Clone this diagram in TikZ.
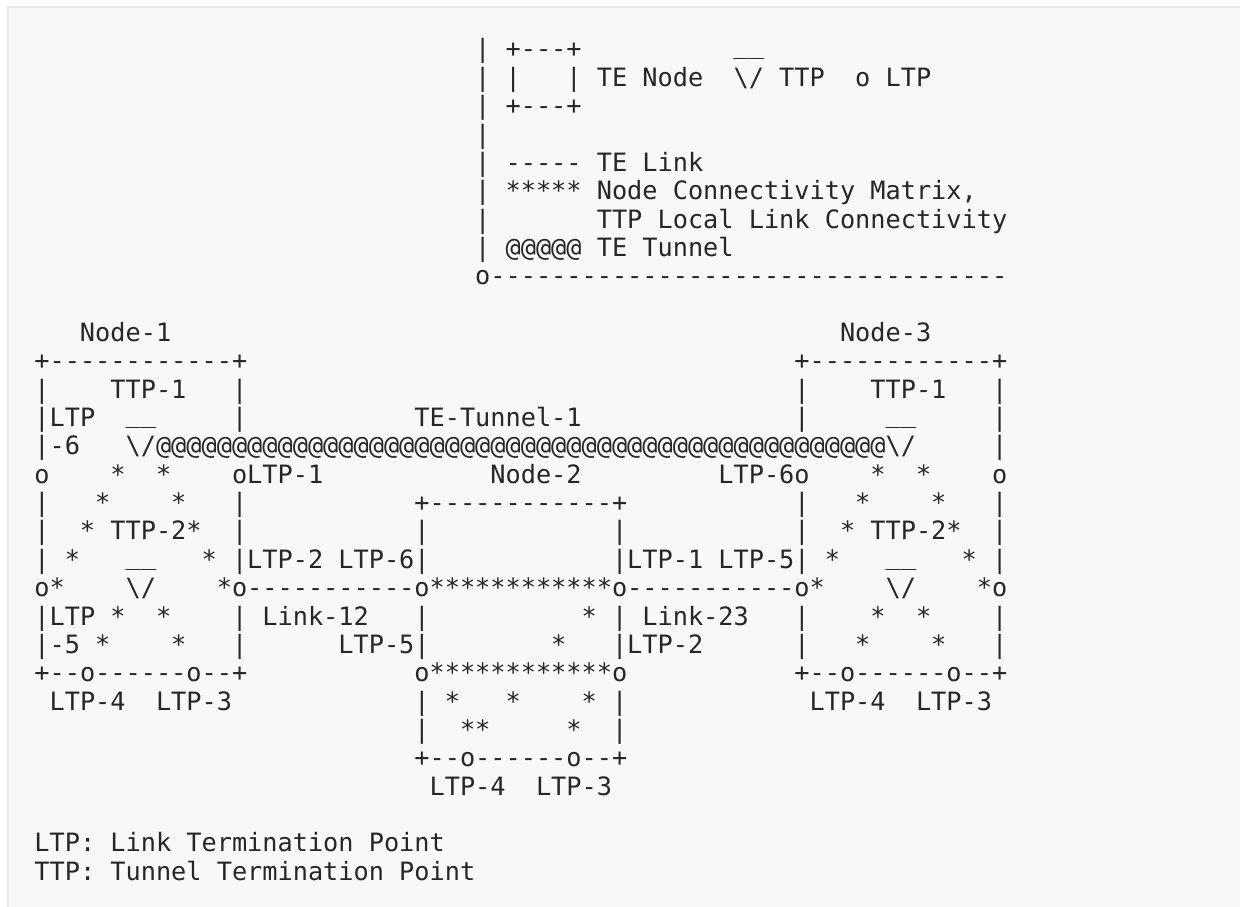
\documentclass[tikz,border=0pt]{standalone}
\usepackage{fontspec}
\setmonofont{DejaVu Sans Mono}
\definecolor{ink}{HTML}{262626}
\definecolor{paper}{HTML}{F8F8F8}
\definecolor{rim}{HTML}{EAEAEA}
\tikzset{txt/.style={font=\ttfamily\fontsize{25.25}{28}\selectfont,text=ink,anchor=base west,inner sep=0pt,outer sep=0pt}}
\newcommand\ttpbar{\raisebox{4pt}{\_\_}}
\begin{document}
\begin{tikzpicture}[x=15.2pt,y=-28.35pt]
\path[use as bounding box,fill=white] (-34.4pt,58pt) rectangle (1205.6pt,-849pt);
\fill[paper] (-26.4pt,51pt) rectangle (1205.6pt,-849pt);
\draw[rim,line width=2pt] (-26.4pt,-849pt)--(-26.4pt,51pt)--(1205.6pt,51pt);
\foreach \r in {0,...,7}{\node[txt] (key\r) at (29,\r) {|};}
\node[txt] (keyend) at (29,8) {o----------------------------------};
\node[txt] (keytop) at (31,0) {+---+}; \node[txt] (keybot) at (31,2) {+---+};
\node[txt] (keyl) at (31,1) {|}; \node[txt] (keyr) at (35,1) {|};
\node[txt] (tenode) at (37,1) {TE Node};
\node[txt] (ttpcap) at (46,0) {\ttpbar}; \node[txt] (ttp) at (46,1) {\textbackslash/ TTP};
\node[txt] (ltp) at (54,1) {o LTP};
\node[txt] (telink) at (31,4) {----- TE Link};
\node[txt] (matrix) at (31,5) {***** Node Connectivity Matrix,};
\node[txt] (local) at (37,6) {TTP Local Link Connectivity};
\node[txt] (tunnel) at (31,7) {@@@@@ TE Tunnel};
\foreach \dx/\k in {0/1,50/3}{
  \node[txt] (n\k-name) at (\dx+3,10) {Node-\k};
  \node[txt] (n\k-top) at (\dx,11) {+------------+};
  \foreach \r in {12,13,16,17,18,20,21}{
    \node[txt] (n\k-l\r) at (\dx,\r) {|}; \node[txt] (n\k-r\r) at (\dx+13,\r) {|};}
  \node[txt] (n\k-ttp1) at (\dx+5,12) {TTP-1};
  \node[txt] (n\k-bar1) at (\dx+6,13) {\ttpbar};
  \node[txt] (n\k-o15l) at (\dx,15) {o}; \node[txt] (n\k-o15r) at (\dx+13,15) {o};
  \node[txt] (n\k-s15a) at (\dx+5,15) {*}; \node[txt] (n\k-s15b) at (\dx+8,15) {*};
  \node[txt] (n\k-s16a) at (\dx+4,16) {*}; \node[txt] (n\k-s16b) at (\dx+9,16) {*};
  \node[txt] (n\k-ttp2) at (\dx+3,17) {* TTP-2*};
  \node[txt] (n\k-s18a) at (\dx+2,18) {*}; \node[txt] (n\k-s18b) at (\dx+11,18) {*};
  \node[txt] (n\k-bar2) at (\dx+6,18) {\ttpbar};
  \node[txt] (n\k-o19l) at (\dx,19) {o*}; \node[txt] (n\k-o19r) at (\dx+12,19) {*o};
  \node[txt] (n\k-vee2) at (\dx+6,19) {\textbackslash/};
  \node[txt] (n\k-s20a) at (\dx+5,20) {*}; \node[txt] (n\k-s20b) at (\dx+8,20) {*};
  \node[txt] (n\k-s21a) at (\dx+4,21) {*}; \node[txt] (n\k-s21b) at (\dx+9,21) {*};
  \node[txt] (n\k-bot) at (\dx,22) {+--o------o--+};
  \node[txt] (n\k-ltp4) at (\dx+1,23) {LTP-4}; \node[txt] (n\k-ltp3) at (\dx+8,23) {LTP-3};
}
\node[txt] (n1-ltp13) at (1,13) {LTP}; \node[txt] (n1-ltp14) at (0,14) {|-6};
\node[txt] (n1-ltp20) at (1,20) {LTP}; \node[txt] (n1-ltp21) at (1,21) {-5};
\node[txt] (n3-r14) at (63,14) {|};
\node[txt] (tename) at (25,13) {TE-Tunnel-1};
\node[txt] (tepath) at (6,14) {\textbackslash/@@@@@@@@@@@@@@@@@@@@@@@@@@@@@@@@@@@@@@@@@@@@@@@@\textbackslash/};
\node[txt] (n1-ltp1) at (14,15) {LTP-1}; \node[txt] (n3-ltp6) at (45,15) {LTP-6};
\node[txt] (n2-name) at (30,15) {Node-2};
\node[txt] (n2-top) at (25,16) {+------------+};
\foreach \r in {17,18,20,21,23,24}{
  \node[txt] (n2-l\r) at (25,\r) {|}; \node[txt] (n2-r\r) at (38,\r) {|};}
\node[txt] (l12a) at (14,18) {LTP-2 LTP-6}; \node[txt] (l23a) at (39,18) {LTP-1 LTP-5};
\node[txt] (link12) at (14,19) {-----------};
\node[txt] (n2-mid) at (25,19) {o************o};
\node[txt] (link23) at (39,19) {-----------};
\node[txt] (l12n) at (15,20) {Link-12}; \node[txt] (l23n) at (40,20) {Link-23};
\node[txt] (n2-s20) at (36,20) {*};
\node[txt] (l12b) at (20,21) {LTP-5}; \node[txt] (l23b) at (39,21) {LTP-2};
\node[txt] (n2-s21) at (34,21) {*};
\node[txt] (n2-low) at (25,22) {o************o};
\node[txt] (n2-s23a) at (27,23) {*}; \node[txt] (n2-s23b) at (31,23) {*}; \node[txt] (n2-s23c) at (36,23) {*};
\node[txt] (n2-s24a) at (28,24) {**}; \node[txt] (n2-s24b) at (35,24) {*};
\node[txt] (n2-bot) at (25,25) {+--o------o--+};
\node[txt] (n2-ltp4) at (26,26) {LTP-4}; \node[txt] (n2-ltp3) at (33,26) {LTP-3};
\node[txt] (noteltp) at (0,28) {LTP: Link Termination Point};
\node[txt] (notettp) at (0,29) {TTP: Tunnel Termination Point};
\end{tikzpicture}
\end{document}
